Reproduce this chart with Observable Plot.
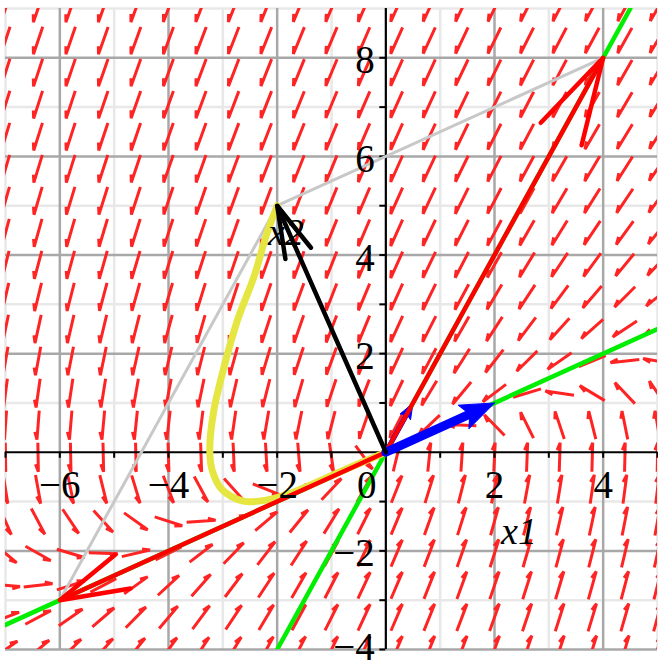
<!DOCTYPE html>
<html><head><meta charset="utf-8">
<script src="https://cdn.jsdelivr.net/npm/d3@7"></script>
<script src="https://cdn.jsdelivr.net/npm/@observablehq/plot@0.6"></script>
<style>body{margin:0;background:#fff;}</style>
</head><body><div id="chart"></div>
<script>
// ---------- data ----------
const xDomain = [-7, 5];
const yDomain = [-4, 9];
const fieldX = [-7,-6.4,-5.8,-5.2,-4.6,-4,-3.4,-2.8,-2.2,-1.6,-1,-0.4,0.2,0.8,1.4,2,2.6,3.2,3.8,4.4,5];
const fieldY = [-4,-3.35,-2.7,-2.05,-1.4,-0.75,-0.1,0.55,1.2,1.85,2.5,3.15,3.8,4.45,5.1,5.75,6.4,7.05,7.7,8.35,9];
const systemMatrix = [[0, -2], [2, -5]];           // x' = A x (estimated from the field)
const minorGridX = [-7,-5,-3,-1,1,3,5];
const minorGridY = [-3,-1,1,3,5,7,9];
const majorGridX = [-6,-4,-2,2,4];
const majorGridY = [-4,-2,2,4,6,8];
const tickX = [-7,-6,-5,-4,-3,-2,-1,1,2,3,4,5];
const tickY = [-4,-3,-2,-1,1,2,3,4,5,6,7,8];
const tickLabelsX = [-6,-4,-2,2,4];
const originLabel = [0];
const tickLabelsY = [-2,2,4,6,8];
const bottomLabelY = [-4];
const grayPath = [[-6,-3],[-2,5],[4,8]];
const greenLines = [[[-2,-4],[4.5,9]], [[-7,-3.5],[5,2.5]]];
const yellowCurve = [[-2,5],[-2.2,4.4],[-2.43,3.55],[-2.73,2.68],[-3.02,1.55],[-3.17,0.82],[-3.24,0.1],[-3.2,-0.35],[-3.02,-0.75],[-2.62,-0.99],[-2.2,-0.97],[-1.8,-0.85],[-1.2,-0.57],[-0.6,-0.28],[0,0]];
const redVectors = [[4,8],[-6,-3]];
const blueThick = [2,1];
const blueThin = [0.5,1];
const blackVector = [-2,5];
const axisLabels = [{x:2.45, y:-1.62, t:"x1"}, {x:-1.84, y:4.46, t:"x2"}];

// ---------- layout ----------
const W = 658, H = 667, mL = 5, mR = 1, mT = 8, mB = 18;
const kx = (W - mL - mR) / (xDomain[1] - xDomain[0]);
const ky = (H - mT - mB) / (yDomain[1] - yDomain[0]);
const toData = (x, y, sx, sy) => ({x: x + sx / kx, y: y - sy / ky});

// direction field harpoons
const fieldPts = [];
const arrowLen = 29, barbLen = 8, barbAng = 20 * Math.PI / 180;
let id = 0;
for (const x of fieldX) for (const y of fieldY) {
  const vx = systemMatrix[0][0] * x + systemMatrix[0][1] * y;
  const vy = systemMatrix[1][0] * x + systemMatrix[1][1] * y;
  let ux = vx * kx, uy = -vy * ky;
  const n = Math.hypot(ux, uy);
  if (!n) continue;
  ux /= n; uy /= n;
  const tail = [-ux * arrowLen / 2, -uy * arrowLen / 2];
  const tip = [ux * arrowLen / 2, uy * arrowLen / 2];
  const c = Math.cos(barbAng), s = Math.sin(barbAng);
  const b1 = [-ux * c + uy * s, -uy * c - ux * s];
  const b2 = [-ux * c - uy * s, -uy * c + ux * s];
  const b = b1[0] < b2[0] ? b1 : b2;
  const barb = [tip[0] + b[0] * barbLen, tip[1] + b[1] * barbLen];
  for (const p of [tail, tip, barb]) fieldPts.push({id, ...toData(x, y, p[0], p[1])});
  id++;
}

// big vectors with two barbs
function bigArrow(v, key, frac = 0.2, ang = 15) {
  const px = v[0] * kx, py = -v[1] * ky;
  const L = Math.hypot(px, py), h = L * frac, a = ang * Math.PI / 180;
  const ux = px / L, uy = py / L;
  const pts = [];
  const b1 = [-ux * Math.cos(a) + uy * Math.sin(a), -uy * Math.cos(a) - ux * Math.sin(a)];
  const b2 = [-ux * Math.cos(a) - uy * Math.sin(a), -uy * Math.cos(a) + ux * Math.sin(a)];
  pts.push({k: key + "s", x: 0, y: 0});
  pts.push({k: key + "s", x: v[0], y: v[1]});
  pts.push({k: key + "h", ...toData(v[0], v[1], b1[0] * h, b1[1] * h)});
  pts.push({k: key + "h", x: v[0], y: v[1]});
  pts.push({k: key + "h", ...toData(v[0], v[1], b2[0] * h, b2[1] * h)});
  return pts;
}
// filled-head arrow
function filledArrow(v, headLen, halfW) {
  const px = v[0] * kx, py = -v[1] * ky;
  const L = Math.hypot(px, py), ux = px / L, uy = py / L;
  const base = [-ux * headLen, -uy * headLen];
  const shaft = [{x: 0, y: 0}, toData(v[0], v[1], base[0] * 0.8, base[1] * 0.8)];
  const head = [
    {x: v[0], y: v[1]},
    toData(v[0], v[1], base[0] + uy * halfW, base[1] - ux * halfW),
    toData(v[0], v[1], base[0] * 0.8, base[1] * 0.8),
    toData(v[0], v[1], base[0] - uy * halfW, base[1] + ux * halfW),
    {x: v[0], y: v[1]}
  ];
  return {shaft, head};
}
const redPts = redVectors.flatMap((v, i) => bigArrow(v, "r" + i));
const blackPts = bigArrow(blackVector, "b");
const bThick = filledArrow(blueThick, 34, 13);
const bThin = filledArrow(blueThin, 16, 6);

const serif = "Liberation Serif, Times New Roman, serif";
const fmt = d => d < 0 ? "\u2212" + (-d) : String(d);
const chart = Plot.plot({
  width: W, height: H,
  marginLeft: mL, marginRight: mR, marginTop: mT, marginBottom: mB,
  x: {domain: xDomain, axis: null},
  y: {domain: yDomain, axis: null},
  style: {fontFamily: serif, background: "white", overflow: "visible"},
  marks: [
    Plot.ruleX(minorGridX, {stroke: "#e8e8e8", strokeWidth: 2.5}),
    Plot.ruleY(minorGridY, {stroke: "#e8e8e8", strokeWidth: 2.5}),
    Plot.ruleX(majorGridX, {stroke: "#a8a8a8", strokeWidth: 2.5}),
    Plot.ruleY(majorGridY, {stroke: "#a8a8a8", strokeWidth: 2.5}),
    Plot.line(fieldPts, {x: "x", y: "y", z: "id", stroke: "#ff2424", strokeWidth: 3, strokeLinejoin: "miter", strokeLinecap: "butt", clip: true}),
    Plot.ruleX([0], {stroke: "black", strokeWidth: 2.2}),
    Plot.ruleY([0], {stroke: "black", strokeWidth: 2.2}),
    Plot.ruleX(tickX, {x: d => d, y1: 0, y2: -6 / ky, stroke: "black", strokeWidth: 2}),
    Plot.ruleY(tickY, {y: d => d, x1: 0, x2: -6 / kx, stroke: "black", strokeWidth: 2}),
    Plot.line(grayPath, {x: d => d[0], y: d => d[1], stroke: "#c8c8c8", strokeWidth: 3}),
    Plot.line(greenLines.flatMap((l, i) => l.map(p => ({i, x: p[0], y: p[1]}))), {x: "x", y: "y", z: "i", stroke: "#00ee00", strokeWidth: 4.5, clip: true}),
    Plot.line(yellowCurve, {x: d => d[0], y: d => d[1], curve: "catmull-rom", stroke: "#e6e642", strokeWidth: 7}),
    Plot.line(bThin.shaft, {x: "x", y: "y", stroke: "#0000ff", strokeWidth: 5}),
    Plot.line(bThin.head, {x: "x", y: "y", fill: "#0000ff", stroke: "#0000ff", strokeWidth: 1}),
    Plot.line(redPts, {x: "x", y: "y", z: "k", stroke: "#ff0000", strokeWidth: 4.5, strokeLinejoin: "miter"}),
    Plot.line(bThick.shaft, {x: "x", y: "y", stroke: "#0000ff", strokeWidth: 9}),
    Plot.line(bThick.head, {x: "x", y: "y", fill: "#0000ff", stroke: "#0000ff", strokeWidth: 1}),
    Plot.line(blackPts, {x: "x", y: "y", z: "k", stroke: "black", strokeWidth: 4.5, strokeLinejoin: "miter"}),
    Plot.text(tickLabelsX, {x: d => d, y: 0, dy: 33, text: fmt, fontSize: 39, fill: "black", fontFamily: serif}),
    Plot.text(originLabel, {x: d => d, y: 0, dy: 33, dx: -19, text: fmt, fontSize: 39, fill: "black", fontFamily: serif}),
    Plot.text(tickLabelsY, {x: 0, y: d => d, dx: -11, dy: 3, textAnchor: "end", text: fmt, fontSize: 39, fill: "black", fontFamily: serif}),
    Plot.text(bottomLabelY, {x: 0, y: d => d, dx: -11, dy: -2, textAnchor: "end", text: fmt, fontSize: 39, fill: "black", fontFamily: serif}),
    Plot.text(axisLabels, {x: "x", y: "y", text: "t", fontSize: 38, fontStyle: "italic", fill: "black", fontFamily: serif})
  ]
});
document.getElementById("chart").appendChild(chart);
</script>
</body></html>
